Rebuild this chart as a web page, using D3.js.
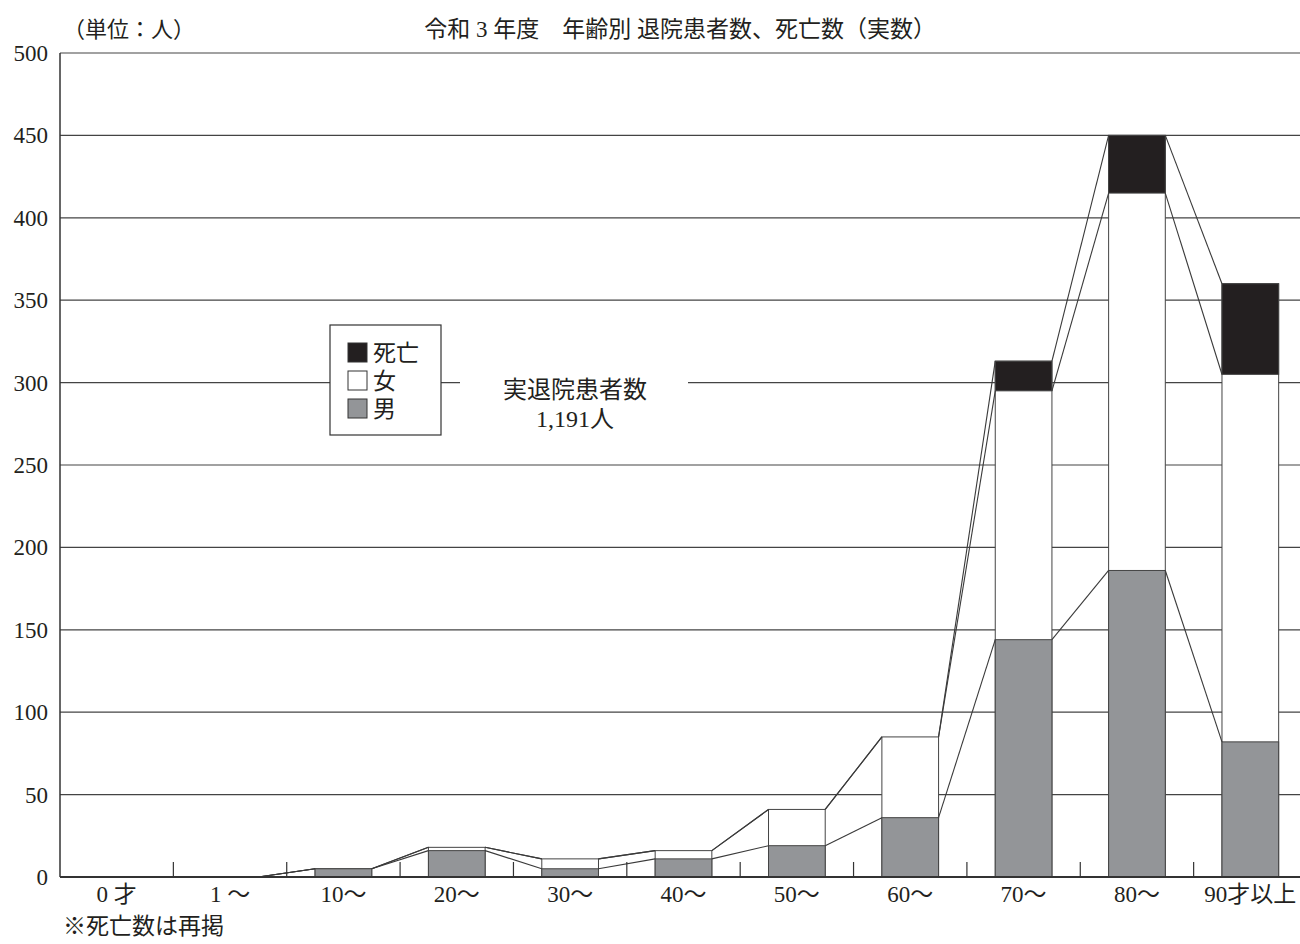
<!DOCTYPE html>
<html>
<head>
<meta charset="utf-8">
<script src="https://cdn.jsdelivr.net/npm/d3@7"></script>
<style>
  body { margin: 0; background: #fff; }
  text { font-family: "Liberation Serif", "Noto Sans CJK JP", serif; fill: #231f20; }
</style>
</head>
<body>
<script>
// 年齢区分
let categories = ["0 才", "1 ～", "10～", "20～", "30～", "40～", "50～", "60～", "70～", "80～", "90才以上"]
// 男, 女, 死亡 (死亡は再掲、積み上げ表示)
let male   = [0, 0, 5, 16, 5, 11, 19, 36, 144, 186, 82]
let female = [0, 0, 0, 2, 6, 5, 22, 49, 151, 229, 223]
let death  = [0, 0, 0, 0, 0, 0, 0, 0, 18, 35, 55]
let yTicks = [0, 50, 100, 150, 200, 250, 300, 350, 400, 450, 500]

let c_gray = "#939598", c_black = "#231f20", c_line = "#3a3a3a"

let svg = d3.select("body").append("svg").attr("width", 1300).attr("height", 944)

let x = d3.scaleBand().domain(categories).range([60, 1307]).paddingInner(0.5).paddingOuter(0.25)
let y = d3.scaleLinear().domain([0, 500]).range([877, 53])
let bw = x.bandwidth()
let step = x.step()

// grid lines
svg.append("g").selectAll("line").data(yTicks.filter(d => d > 0)).join("line")
  .attr("x1", 60).attr("x2", 1300).attr("y1", d => y(d)).attr("y2", d => y(d))
  .attr("stroke", "#444").attr("stroke-width", 1.2)

// y labels
svg.append("g").selectAll("text").data(yTicks).join("text")
  .attr("x", 48).attr("y", d => y(d) + 8).attr("text-anchor", "end")
  .attr("font-size", 24).attr("textLength", d => String(d).length * 11.5)
  .attr("lengthAdjust", "spacingAndGlyphs").text(d => d)

// stacked data
let rows = categories.map((c, i) => ({
  cat: c,
  m: male[i],
  f: male[i] + female[i],
  d: male[i] + female[i] + death[i]
}))

// bars
let bars = svg.append("g")
let drawSeg = (y0key, y1key, color) => {
  bars.selectAll(null).data(rows).join("rect")
    .attr("x", d => x(d.cat))
    .attr("y", d => y(d[y1key]))
    .attr("width", bw)
    .attr("height", d => y0key ? y(d[y0key]) - y(d[y1key]) : y(0) - y(d[y1key]))
    .attr("fill", color).attr("stroke", "#444").attr("stroke-width", 1)
}
drawSeg(null, "d", "#fff")
drawSeg("f", "d", c_black)
drawSeg(null, "m", c_gray)

// connecting lines
let links = svg.append("g")
;["m", "f", "d"].forEach(k => {
  for (let i = 0; i < rows.length - 1; i++) {
    links.append("line")
      .attr("x1", x(rows[i].cat) + bw).attr("y1", y(rows[i][k]))
      .attr("x2", x(rows[i + 1].cat)).attr("y2", y(rows[i + 1][k]))
      .attr("stroke", c_line).attr("stroke-width", 1.1)
  }
})

// axes
svg.append("line").attr("x1", 60).attr("x2", 60).attr("y1", 53).attr("y2", 877)
  .attr("stroke", "#333").attr("stroke-width", 1.5)
svg.append("line").attr("x1", 60).attr("x2", 1300).attr("y1", y(0)).attr("y2", y(0))
  .attr("stroke", "#333").attr("stroke-width", 2.2)

// category separators
svg.append("g").selectAll("line").data(d3.range(1, categories.length)).join("line")
  .attr("x1", i => 60 + step * i).attr("x2", i => 60 + step * i)
  .attr("y1", 862).attr("y2", 877).attr("stroke", "#333").attr("stroke-width", 1.2)

// x labels
svg.append("g").selectAll("text").data(categories).join("text")
  .attr("x", d => x(d) + bw / 2).attr("y", 902).attr("text-anchor", "middle")
  .attr("font-size", 23).text(d => d)

// titles
svg.append("text").attr("x", 63).attr("y", 37).attr("font-size", 22).text("（単位：人）")
svg.append("text").attr("x", 680).attr("y", 37).attr("text-anchor", "middle").attr("font-size", 23)
  .text("令和 3 年度　年齢別 退院患者数、死亡数（実数）")
svg.append("text").attr("x", 63).attr("y", 934).attr("font-size", 23).text("※死亡数は再掲")

// total note
svg.append("rect").attr("x", 460).attr("y", 368).attr("width", 228).attr("height", 64).attr("fill", "#fff")
svg.append("text").attr("x", 575).attr("y", 398).attr("text-anchor", "middle").attr("font-size", 24).text("実退院患者数")
svg.append("text").attr("x", 575).attr("y", 427).attr("text-anchor", "middle").attr("font-size", 24).text("1,191人")

// legend
let legendItems = [["死亡", c_black], ["女", "#fff"], ["男", c_gray]]
let lg = svg.append("g")
lg.append("rect").attr("x", 330).attr("y", 325).attr("width", 111).attr("height", 110)
  .attr("fill", "#fff").attr("stroke", "#333").attr("stroke-width", 1.2)
legendItems.forEach((it, i) => {
  lg.append("rect").attr("x", 348).attr("y", 343 + i * 28).attr("width", 19).attr("height", 19)
    .attr("fill", it[1]).attr("stroke", "#333").attr("stroke-width", 1)
  lg.append("text").attr("x", 373).attr("y", 361 + i * 28).attr("font-size", 23).text(it[0])
})
</script>
</body>
</html>
